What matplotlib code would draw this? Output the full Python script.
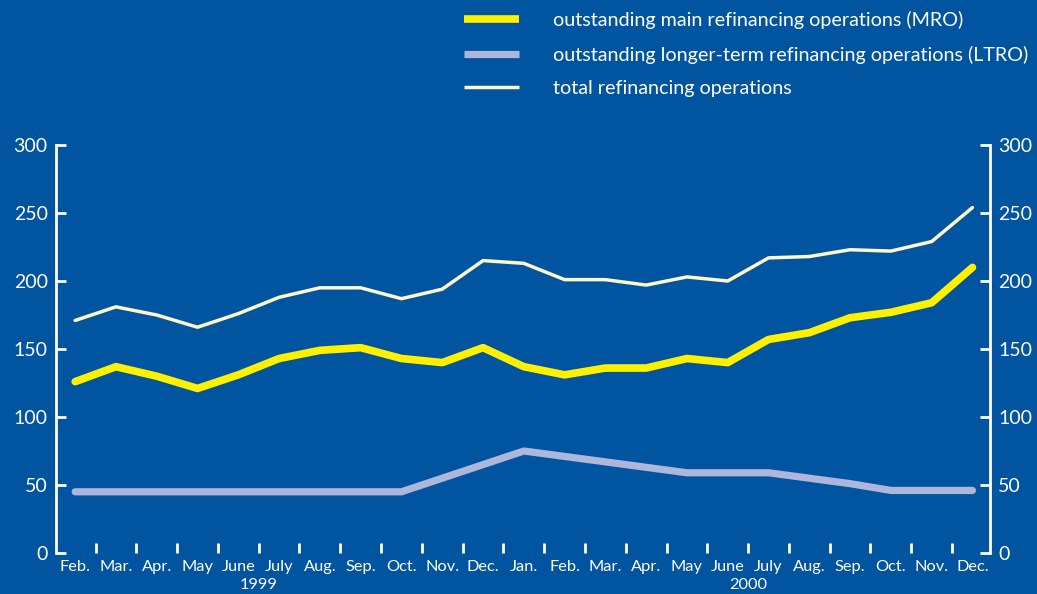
import matplotlib
matplotlib.use("Agg")
import matplotlib.pyplot as plt
import numpy as np

# Monthly data, Feb 1999 - Dec 2000 (EUR billions)
months = ["Feb.", "Mar.", "Apr.", "May", "June", "July", "Aug.", "Sep.", "Oct.", "Nov.", "Dec.",
          "Jan.", "Feb.", "Mar.", "Apr.", "May", "June", "July", "Aug.", "Sep.", "Oct.", "Nov.", "Dec."]
years = ["1999", "2000"]

mro = [126, 137, 130, 121, 131, 143, 149, 151, 143, 140, 151,
       137, 131, 136, 136, 143, 140, 157, 162, 173, 177, 184, 210]
ltro = [45, 45, 45, 45, 45, 45, 45, 45, 45, 55, 65,
        75, 71, 67, 63, 59, 59, 59, 55, 51, 46, 46, 46]
total = [171, 181, 175, 166, 176, 188, 195, 195, 187, 194, 215,
         213, 201, 201, 197, 203, 200, 217, 218, 223, 222, 229, 254]

labels = ["outstanding main refinancing operations (MRO)",
          "outstanding longer-term refinancing operations (LTRO)",
          "total refinancing operations"]

BG = "#0054A0"
YELLOW = "#FFF000"
LAVENDER = "#AEB6DC"
CREAM = "#FFF8C8"
WHITE = "white"

plt.rcParams["font.family"] = ["Lato", "DejaVu Sans"]

fig = plt.figure(figsize=(10.37, 5.94), dpi=100, facecolor=BG)
ax = fig.add_axes([56 / 1037, 41 / 594, (990 - 56) / 1037, 408 / 594])
ax.set_facecolor(BG)

x = np.arange(len(months))
l1, = ax.plot(x, mro, color=YELLOW, lw=5.5, solid_capstyle="round", solid_joinstyle="round", zorder=3)
l2, = ax.plot(x, ltro, color=LAVENDER, lw=5.2, solid_capstyle="round", solid_joinstyle="round", zorder=2)
l3, = ax.plot(x, total, color=CREAM, lw=2.5, solid_capstyle="round", solid_joinstyle="round", zorder=3)

ax.set_xlim(-0.47, 22.43)
ax.set_ylim(0, 300)

# spines
for s in ["top", "bottom"]:
    ax.spines[s].set_visible(False)
for s in ["left", "right"]:
    ax.spines[s].set_color(WHITE)
    ax.spines[s].set_linewidth(2)

# y axis on both sides, ticks pointing inward
yt = np.arange(0, 301, 50)
ax.set_yticks(yt)
ax.tick_params(axis="y", which="major", direction="in", length=7, width=2, color=WHITE,
               labelcolor=WHITE, labelsize=14, left=True, right=True,
               labelleft=True, labelright=True, pad=6)

# x axis: tick marks between months, month labels centred on points
ax.set_xticks(np.arange(0.5, len(months) - 1, 1.0))
ax.set_xticklabels([])
ax.tick_params(axis="x", which="major", direction="in", length=7, width=2, color=WHITE)
ax.set_xticks(x, minor=True)
ax.set_xticklabels(months, minor=True)
ax.tick_params(axis="x", which="minor", length=0, labelcolor=WHITE, labelsize=11.8, pad=5)

# year labels
for pos, yr in zip([4.5, 16.5], years):
    ax.text(pos, -0.062, yr, transform=ax.get_xaxis_transform(), ha="center", va="top",
            color=WHITE, fontsize=11.8)

leg = fig.legend([l1, l2, l3], labels, loc="upper left", bbox_to_anchor=(446 / 1037, 1.012),
                 frameon=False, fontsize=14.2, labelcolor=WHITE, handlelength=2.8,
                 handletextpad=1.75, labelspacing=0.85)
for h in leg.legend_handles:
    h.set_solid_capstyle("butt")

fig.savefig("out.png", dpi=100, facecolor=BG)
